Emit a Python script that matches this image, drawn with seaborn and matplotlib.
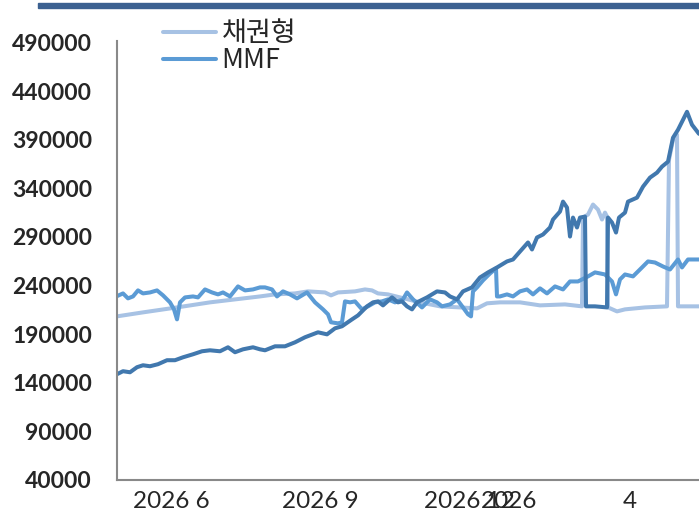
import numpy as np
import pandas as pd
import matplotlib.pyplot as plt
import seaborn as sns
from matplotlib.patches import Rectangle

bond_days = [0, 13, 30, 46.5, 71.5, 79, 89, 95.5, 104, 107, 110.5, 119, 124, 127.5,
             130.5, 135.5, 141.5, 151.5, 161.5, 171.5, 180, 185, 191.5, 201.5, 211.5,
             224, 232.5, 233, 235.5, 238, 240.5, 242.5, 244, 245, 245.5, 250, 254,
             264, 275, 276, 278, 280, 280.5, 291]
bond_vals = [208300, 212400, 217500, 222700, 228800, 230900, 231900, 234000, 232900,
             229900, 232900, 234000, 236000, 235000, 231900, 230900, 227800, 222700,
             218600, 217500, 216500, 221700, 222700, 222700, 219600, 220600, 218600,
             309900, 313000, 323300, 318100, 307900, 315000, 310900, 217500, 213400,
             215500, 217500, 218600, 369400, 390000, 395100, 218600, 218600]

mmf_days = [0, 3, 5.5, 8, 10.5, 13, 16.5, 20, 23, 26.5, 28.5, 30, 31.5, 34, 38, 40.5,
            44, 47.5, 50.5, 53, 56.5, 60.5, 64, 68, 71.5, 74, 77.5, 80, 83, 86.5, 90,
            95, 99, 103, 105.5, 107, 110.5, 112.5, 114, 116.5, 119, 122.5, 125.5, 129,
            132.5, 135.5, 139, 143, 145, 148, 152.5, 156.5, 160, 162.5, 166.5, 170,
            173, 175.5, 177, 178, 180, 183, 186.5, 189.5, 190, 191.5, 195, 198, 201.5,
            205, 208, 211.5, 215, 219, 223, 226.5, 230.5, 235.5, 239, 244, 247.5,
            249.5, 251.5, 254, 258, 262.5, 265.5, 269, 273, 276.5, 280.5, 282.5,
            285.5, 291]
mmf_vals = [229100, 231900, 226800, 228800, 235000, 231900, 232900, 235000, 229900,
            222700, 215500, 205200, 222700, 227800, 228800, 227800, 236000, 232900,
            230900, 232900, 228800, 239100, 235000, 236000, 238100, 238100, 236000,
            228800, 234000, 230900, 226800, 232900, 222700, 215500, 210400, 202200,
            201100, 202200, 223700, 222700, 223700, 215500, 218600, 222700, 223700,
            225800, 222700, 225800, 232900, 225800, 217500, 225800, 222700, 218600,
            220600, 225800, 217500, 210400, 208300, 234000, 238100, 245300, 252400,
            257600, 228800, 228800, 230900, 228800, 234000, 236000, 230900, 237100,
            231900, 239100, 236000, 244200, 244200, 249400, 253500, 251400, 244200,
            230900, 246300, 251400, 249400, 258600, 264800, 263700, 259600, 256500,
            266800, 258600, 266800, 266800]

equity_days = [0, 3, 6.5, 10, 13, 16.5, 20.5, 25, 29, 33, 38, 42.5, 46.5, 51.5, 55.5,
               59, 63, 68, 71.5, 74, 79, 84, 89, 94, 100.5, 105, 109, 112.5, 117.5,
               120.5, 125, 128, 130.5, 133, 137.5, 140.5, 142.5, 145, 147.5, 150, 155,
               160, 164, 166.5, 170, 173, 177.5, 181.5, 185.5, 190, 195, 198, 201.5,
               205.5, 207.5, 210, 213, 216.5, 218, 221.5, 223, 225, 226.5, 228, 230,
               231.5, 234, 234.5, 239, 245, 245.5, 247.5, 249.5, 251, 254, 255.5, 260,
               263, 266.5, 270, 272.5, 275.5, 278, 280.5, 282.5, 285, 287.5, 291]
equity_vals = [148800, 151900, 150800, 156000, 158000, 157000, 159100, 163200, 163200,
               166200, 169300, 172400, 173400, 172400, 176500, 171400, 174400, 176500,
               174400, 173400, 177500, 177500, 181600, 186800, 191900, 189800, 196000,
               198100, 205200, 209300, 218600, 222700, 223700, 219600, 227800, 222700,
               223700, 218600, 215500, 222700, 227800, 234000, 232900, 228800, 225800,
               234000, 238100, 248300, 253500, 258600, 264800, 266800, 275000, 284300,
               277100, 289400, 292500, 299700, 307900, 316100, 326300, 320200, 290400,
               309900, 299700, 309900, 310900, 218600, 218600, 217500, 309900, 304800,
               294500, 309900, 315000, 326300, 330400, 341700, 351000, 356100, 362300,
               367400, 392000, 400200, 408400, 418700, 405400, 396000]

series_names = ['채권형', 'MMF', '주식형']
tick_days = [27, 101.5, 176, 196, 256.5]
tick_labels = ['2026 6', '2026 9', '2026 12', '2026', '4']
y_ticks = list(range(40000, 490001, 50000))

df = pd.concat([
    pd.DataFrame({'day': bond_days, 'value': bond_vals, 'series': series_names[0]}),
    pd.DataFrame({'day': mmf_days, 'value': mmf_vals, 'series': series_names[1]}),
    pd.DataFrame({'day': equity_days, 'value': equity_vals, 'series': series_names[2]}),
])

sns.set_style('white')
plt.rcParams['font.family'] = ['Lato', 'Noto Sans CJK KR', 'DejaVu Sans']

colors = {'채권형': '#a7c2e4', 'MMF': '#5b9bd5', '주식형': '#4178ae'}

fig = plt.figure(figsize=(6.99, 5.21), dpi=100)
ax = fig.add_axes([117 / 699, 41 / 521, 1 - 117 / 699, 439 / 521])

sns.lineplot(data=df, x='day', y='value', hue='series', palette=colors,
             linewidth=2.9, legend=False, ax=ax, estimator=None, sort=True)

ax.set_xlim(0, 291)
ax.set_ylim(40000, 491500)
ax.set_yticks(y_ticks)
ax.set_yticklabels([str(v) for v in y_ticks], fontsize=16.5, fontweight='bold')
ax.set_xticks(tick_days)
ax.set_xticklabels(tick_labels, fontsize=17.5)
ax.tick_params(axis='y', length=0, pad=18)
ax.tick_params(axis='x', length=0, pad=8)
ax.set_xlabel('')
ax.set_ylabel('')

for side in ['top', 'right']:
    ax.spines[side].set_visible(False)
for side in ['left', 'bottom']:
    ax.spines[side].set_color('#898989')
    ax.spines[side].set_linewidth(1.5)

lines = ax.get_lines()
leg = fig.legend(lines[:2], series_names[:2], loc='upper left',
                 bbox_to_anchor=(139 / 699, 1 + 4 / 521), frameon=False,
                 prop={'family': ['Noto Sans CJK KR'], 'size': 19.5},
                 handlelength=1.95, handletextpad=0.2, labelspacing=0.0)

# dark title bar across the top
fig.patches.append(Rectangle((38 / 699, 1 - 8 / 521), 1 - 38 / 699, 5 / 521,
                             transform=fig.transFigure, color='#3b6090'))

fig.savefig('out.png', dpi=100)
